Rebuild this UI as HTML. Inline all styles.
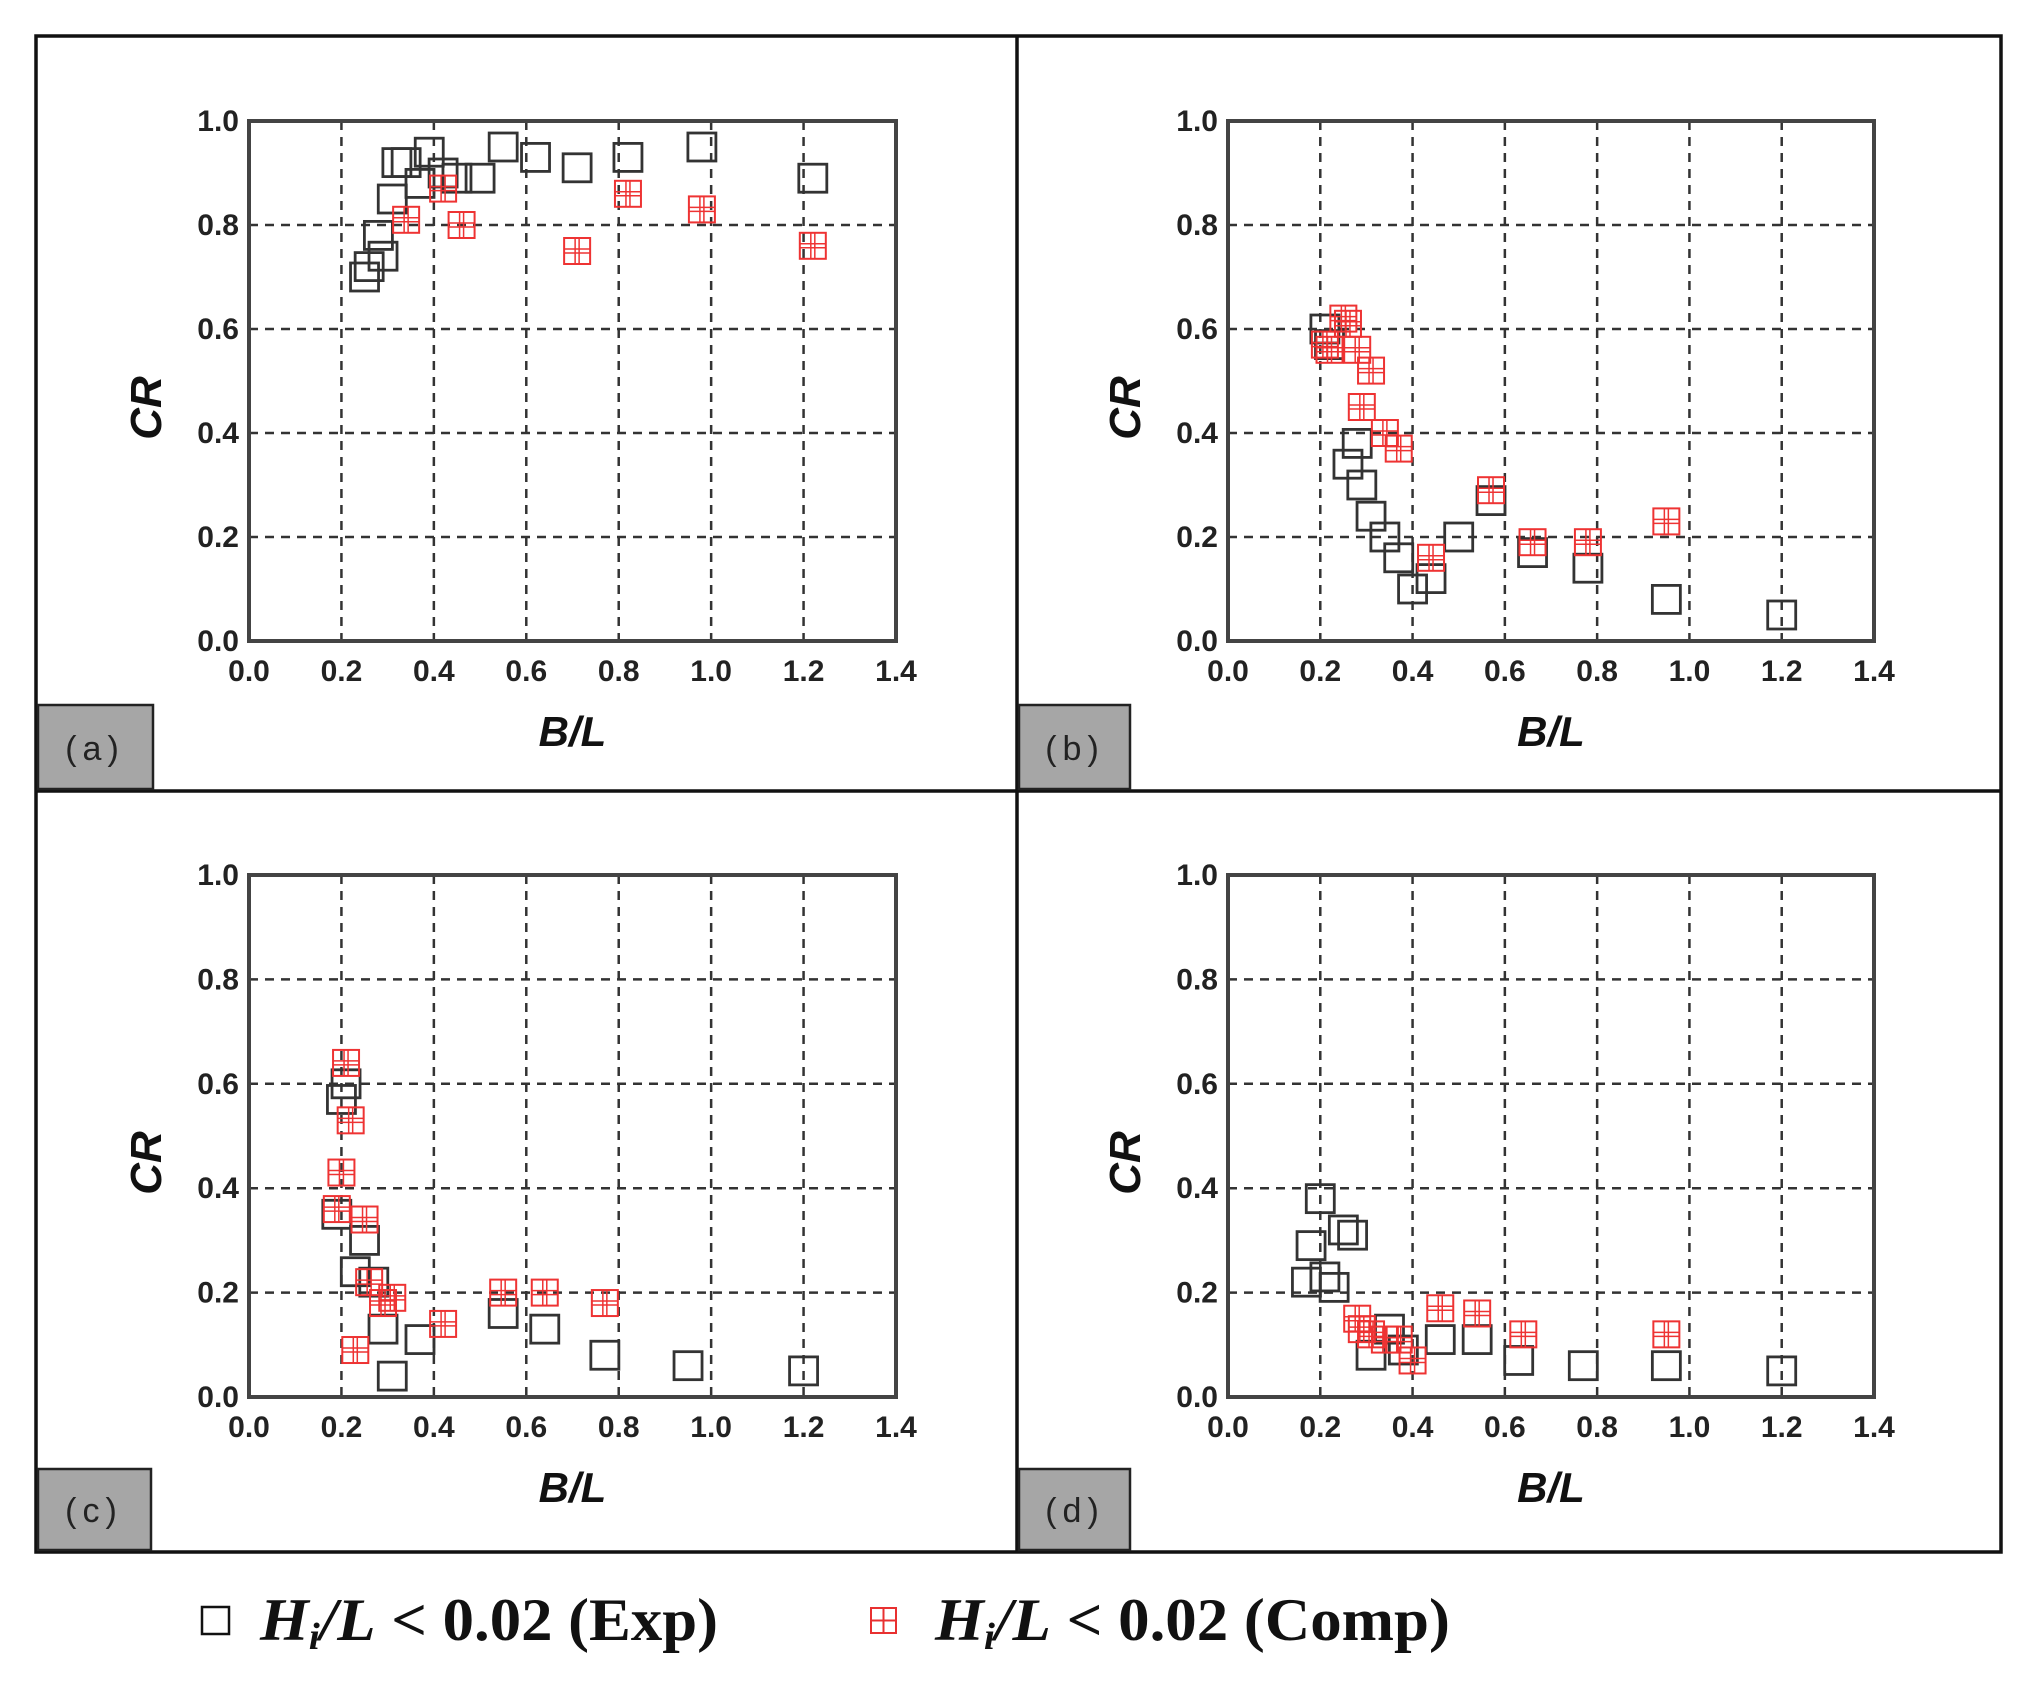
<!DOCTYPE html>
<html><head><meta charset="utf-8"><style>
html,body{margin:0;padding:0;background:#fff;}
svg{display:block;}
</style></head><body>
<svg id="s" width="2035" height="1691" xmlns="http://www.w3.org/2000/svg" font-family="Liberation Sans, Arial, sans-serif">
<rect width="2035" height="1691" fill="#fff"/>
<g fill="none" stroke="#111" stroke-width="3.5">
<rect x="36" y="36" width="1965" height="1516"/>
<line x1="1017" y1="36" x2="1017" y2="1552"/>
<line x1="36" y1="791" x2="2001" y2="791"/>
</g>
<g id="plots"></g>
<g font-size="34" fill="#222">
<rect x="38" y="705" width="115" height="84" fill="#a6a6a6" stroke="#222" stroke-width="2.5"/>
<text x="95" y="760" text-anchor="middle" letter-spacing="6">(a)</text>
<rect x="1019" y="705" width="111" height="84" fill="#a6a6a6" stroke="#222" stroke-width="2.5"/>
<text x="1075" y="760" text-anchor="middle" letter-spacing="6">(b)</text>
<rect x="38" y="1469" width="113" height="81" fill="#a6a6a6" stroke="#222" stroke-width="2.5"/>
<text x="94" y="1522" text-anchor="middle" letter-spacing="6">(c)</text>
<rect x="1019" y="1469" width="111" height="81" fill="#a6a6a6" stroke="#222" stroke-width="2.5"/>
<text x="1075" y="1522" text-anchor="middle" letter-spacing="6">(d)</text>
</g>
<rect x="202" y="1607" width="27" height="27" fill="none" stroke="#111" stroke-width="2.5"/>
<text x="260" y="1640" font-family="Liberation Serif, serif" font-weight="bold" font-size="60" fill="#111" textLength="458" lengthAdjust="spacingAndGlyphs"><tspan font-style="italic">H<tspan font-size="38" dy="9">i</tspan><tspan dy="-9">/L</tspan></tspan> &lt; 0.02 (Exp)</text>
<g stroke="#e83030" stroke-width="2" fill="none"><rect x="871" y="1608" width="25" height="25"/><line x1="883.5" y1="1608" x2="883.5" y2="1633"/><line x1="871" y1="1620.5" x2="896" y2="1620.5"/></g>
<text x="935" y="1640" font-family="Liberation Serif, serif" font-weight="bold" font-size="60" fill="#111" textLength="515" lengthAdjust="spacingAndGlyphs"><tspan font-style="italic">H<tspan font-size="38" dy="9">i</tspan><tspan dy="-9">/L</tspan></tspan> &lt; 0.02 (Comp)</text>
</svg>
<script>
var NS="http://www.w3.org/2000/svg";
function el(t,a,p,txt){var e=document.createElementNS(NS,t);for(var k in a)e.setAttribute(k,a[k]);if(txt!==undefined)e.textContent=txt;p.appendChild(e);return e;}
var G=document.getElementById('plots');
var panels=[
{x0:249,x1:896,y0:121,y1:641,
E:[[0.25,0.70],[0.26,0.72],[0.28,0.78],[0.29,0.74],[0.31,0.85],[0.32,0.92],[0.34,0.92],[0.37,0.88],[0.39,0.94],[0.42,0.90],[0.45,0.89],[0.50,0.89],[0.55,0.95],[0.62,0.93],[0.71,0.91],[0.82,0.93],[0.98,0.95],[1.22,0.89]],
C:[[0.34,0.81],[0.42,0.87],[0.46,0.80],[0.71,0.75],[0.82,0.86],[0.98,0.83],[1.22,0.76]]},
{x0:1228,x1:1874,y0:121,y1:641,
E:[[0.21,0.60],[0.22,0.57],[0.26,0.34],[0.28,0.38],[0.29,0.30],[0.31,0.24],[0.34,0.20],[0.37,0.16],[0.40,0.10],[0.44,0.12],[0.50,0.20],[0.57,0.27],[0.66,0.17],[0.78,0.14],[0.95,0.08],[1.20,0.05]],
C:[[0.21,0.57],[0.22,0.56],[0.25,0.62],[0.26,0.61],[0.28,0.56],[0.29,0.45],[0.31,0.52],[0.34,0.40],[0.37,0.37],[0.44,0.16],[0.57,0.29],[0.66,0.19],[0.78,0.19],[0.95,0.23]]},
{x0:249,x1:896,y0:875,y1:1397,
E:[[0.19,0.35],[0.20,0.57],[0.21,0.60],[0.23,0.24],[0.25,0.30],[0.27,0.22],[0.29,0.13],[0.31,0.04],[0.37,0.11],[0.55,0.16],[0.64,0.13],[0.77,0.08],[0.95,0.06],[1.20,0.05]],
C:[[0.19,0.36],[0.20,0.43],[0.21,0.64],[0.22,0.53],[0.23,0.09],[0.25,0.34],[0.26,0.22],[0.29,0.18],[0.31,0.19],[0.42,0.14],[0.55,0.20],[0.64,0.20],[0.77,0.18]]},
{x0:1228,x1:1874,y0:875,y1:1397,
E:[[0.17,0.22],[0.18,0.29],[0.20,0.38],[0.21,0.23],[0.23,0.21],[0.25,0.32],[0.27,0.31],[0.31,0.08],[0.35,0.13],[0.38,0.09],[0.46,0.11],[0.54,0.11],[0.63,0.07],[0.77,0.06],[0.95,0.06],[1.20,0.05]],
C:[[0.28,0.15],[0.29,0.13],[0.31,0.12],[0.34,0.11],[0.37,0.11],[0.40,0.07],[0.46,0.17],[0.54,0.16],[0.64,0.12],[0.95,0.12]]}
];
panels.forEach(function(p){
 var g=el('g',{},G);
 function X(v){return p.x0+(p.x1-p.x0)*v/1.4;}
 function Y(v){return p.y1-(p.y1-p.y0)*v;}
 for(var i=1;i<7;i++){var x=X(i*0.2);el('line',{x1:x,y1:p.y0,x2:x,y2:p.y1,stroke:'#333','stroke-width':2.5,'stroke-dasharray':'9,7'},g);}
 for(var j=1;j<5;j++){var y=Y(j*0.2);el('line',{x1:p.x0,y1:y,x2:p.x1,y2:y,stroke:'#333','stroke-width':2.5,'stroke-dasharray':'9,7'},g);}
 el('rect',{x:p.x0,y:p.y0,width:p.x1-p.x0,height:p.y1-p.y0,fill:'none',stroke:'#444','stroke-width':4},g);
 for(var i=0;i<=7;i++){el('text',{x:X(i*0.2),y:p.y1+40,'text-anchor':'middle','font-size':30,'font-weight':'bold',fill:'#222'},g,(i*0.2).toFixed(1));}
 for(var j=0;j<=5;j++){el('text',{x:p.x0-10,y:Y(j*0.2)+10,'text-anchor':'end','font-size':30,'font-weight':'bold',fill:'#222'},g,(j*0.2).toFixed(1));}
 var cx=(p.x0+p.x1)/2, cy=(p.y0+p.y1)/2;
 el('text',{x:cx,y:p.y1+105,'text-anchor':'middle','font-size':42,'font-weight':'bold','font-style':'italic',fill:'#111'},g,'B/L');
 el('text',{x:0,y:0,transform:'translate('+(p.x0-88)+','+(cy+27)+') rotate(-90)','text-anchor':'middle','font-size':44,'font-weight':'bold','font-style':'italic',fill:'#111'},g,'CR');
 var s=28;
 p.E.forEach(function(d){el('rect',{x:X(d[0])-s/2,y:Y(d[1])-s/2,width:s,height:s,fill:'none',stroke:'#333','stroke-width':2.8},g);});
 p.C.forEach(function(d){var x=X(d[0]),y=Y(d[1]),h=s/2-1;
  el('rect',{x:x-h,y:y-h,width:2*h,height:2*h,fill:'none',stroke:'#ee3333','stroke-width':2},g);
  el('line',{x1:x-2,y1:y-h,x2:x-2,y2:y+h,stroke:'#ee3333','stroke-width':1.5},g);
  el('line',{x1:x+2,y1:y-h,x2:x+2,y2:y+h,stroke:'#ee3333','stroke-width':1.5},g);
  el('line',{x1:x-h,y1:y-2,x2:x+h,y2:y-2,stroke:'#ee3333','stroke-width':1.5},g);
  el('line',{x1:x-h,y1:y+2,x2:x+h,y2:y+2,stroke:'#ee3333','stroke-width':1.5},g);
 });
});
</script>
</body></html>
